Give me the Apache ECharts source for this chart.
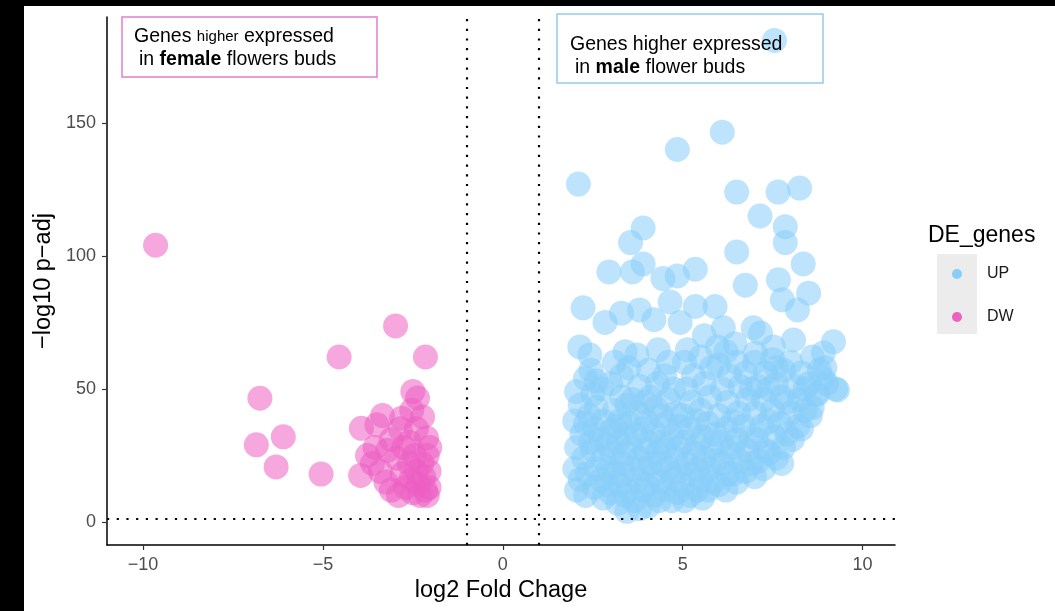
<!DOCTYPE html>
<html>
<head>
<meta charset="utf-8">
<script src="https://cdn.jsdelivr.net/npm/echarts@6/dist/echarts.min.js"></script>
<style>
  html, body { margin: 0; padding: 0; background: #fff; }
  #main { width: 1055px; height: 611px; }
</style>
</head>
<body>
<div id="main"></div>
<script>
var chartDom = document.getElementById("main");
var myChart = echarts.init(chartDom);
var option;

// log2 fold change, -log10 p-adj
const upGenes = [
  [7.55, 181], [6.1, 146.5], [4.85, 140], [2.1, 127], [6.5, 124], [7.65, 124],
  [8.25, 125.5], [7.15, 115], [3.9, 110.5], [7.85, 111], [3.55, 105], [7.85, 105],
  [6.5, 101.5], [3.9, 97], [8.35, 97], [2.95, 94], [4.45, 91.5], [4.85, 92.5],
  [5.35, 95], [3.6, 94], [7.66, 91], [6.74, 89], [8.5, 86],
  [2.23, 80.5], [2.84, 75], [3.3, 78.5], [3.8, 79.7], [4.2, 76], [4.65, 82.7],
  [4.93, 75], [5.35, 81], [5.9, 81], [6.13, 73], [6.96, 73], [7.16, 71],
  [7.77, 83.5], [8.19, 79.7], [2.14, 65.8], [2.42, 62.8], [3.4, 64], [3.73, 62.8],
  [4.32, 64.7], [5.13, 64.7], [5.96, 65.8], [9.19, 67.7], [8.91, 63.5], [8.08, 68.4],
  [7.52, 65.8], [7.02, 63.5], [6.45, 67], [5.6, 70], [8.9, 54], [9.3, 49.6], [8.7, 48],
  [2.05, 49], [2.3, 54], [2.15, 44], [2.0, 38], [2.2, 33], [2.05, 28], [2.25, 24],
  [2.0, 20], [2.15, 16], [2.05, 12], [2.3, 10],
  [2.5, 48], [2.75, 50], [2.6, 43], [2.8, 38], [2.55, 35], [2.7, 31], [2.5, 27],
  [2.8, 24], [2.6, 20], [2.75, 16], [2.55, 13], [2.8, 9],
  [3.0, 52], [3.3, 47], [3.1, 42], [3.25, 38], [3.0, 34], [3.2, 30], [3.05, 26],
  [3.3, 22], [3.1, 18], [3.25, 14], [3.0, 11], [3.2, 7],
  [3.5, 58], [3.8, 51], [3.6, 46], [3.75, 41], [3.5, 37], [3.7, 33], [3.55, 28],
  [3.8, 24], [3.6, 20], [3.75, 16], [3.5, 12], [3.65, 8], [3.45, 4], [3.8, 5],
  [4.05, 57], [4.3, 52], [4.1, 47], [4.25, 43], [4.0, 38], [4.2, 34], [4.05, 30],
  [4.3, 26], [4.1, 22], [4.25, 18], [4.0, 14], [4.2, 10], [4.05, 6],
  [4.5, 55], [4.75, 50], [4.6, 46], [4.8, 41], [4.55, 37], [4.7, 32], [4.5, 28],
  [4.8, 24], [4.6, 20], [4.75, 16], [4.5, 12], [4.7, 8],
  [5.05, 60], [5.3, 55], [5.1, 50], [5.25, 45], [5.0, 40], [5.2, 35], [5.05, 30],
  [5.3, 26], [5.1, 22], [5.25, 18], [5.0, 14], [5.2, 10], [5.05, 8],
  [5.5, 62], [5.8, 58], [5.6, 52], [5.75, 47], [5.5, 42], [5.7, 37], [5.55, 32],
  [5.8, 28], [5.6, 24], [5.75, 20], [5.5, 16], [5.7, 12], [5.55, 9],
  [6.0, 59], [6.3, 55], [6.1, 50], [6.25, 45], [6.0, 40], [6.2, 35], [6.05, 30],
  [6.3, 26], [6.1, 22], [6.25, 18], [6.0, 14], [6.2, 12],
  [6.5, 60], [6.75, 56], [6.6, 51], [6.8, 46], [6.55, 41], [6.7, 36], [6.5, 31],
  [6.8, 27], [6.6, 23], [6.75, 19], [6.5, 15],
  [7.0, 60], [7.3, 56], [7.1, 51], [7.25, 46], [7.0, 41], [7.2, 36], [7.05, 31],
  [7.3, 27], [7.1, 23], [7.25, 20], [7.0, 17],
  [7.5, 61], [7.8, 57], [7.6, 52], [7.75, 47], [7.5, 42], [7.7, 37], [7.55, 32],
  [7.8, 28], [7.6, 24], [7.75, 22],
  [8.0, 60], [8.3, 56], [8.1, 51], [8.25, 46], [8.0, 41], [8.2, 36], [8.05, 31], [8.3, 35],
  [8.5, 52], [8.75, 48], [8.6, 43], [8.8, 57], [8.55, 40],
  [9.0, 52], [9.25, 50], [8.95, 58],
  [2.35, 18], [2.45, 30], [2.4, 40], [2.9, 14], [2.95, 20], [2.9, 29], [3.15, 36],
  [3.4, 10], [3.35, 18], [3.4, 26], [3.4, 33], [3.45, 44], [3.9, 12], [3.9, 20],
  [3.95, 27], [3.9, 35], [3.95, 45], [4.35, 8], [4.4, 15], [4.4, 22], [4.4, 30],
  [4.4, 40], [4.85, 11], [4.9, 19], [4.9, 28], [4.9, 36], [5.4, 12], [5.4, 20],
  [5.4, 29], [5.4, 38], [5.85, 15], [5.9, 23], [5.9, 33], [6.4, 18], [6.4, 28],
  [6.4, 38], [6.9, 22], [6.9, 32], [6.9, 50], [7.4, 26], [7.4, 38], [7.4, 50],
  [7.9, 33], [7.9, 45], [8.4, 42], [8.4, 50], [3.1, 60], [3.3, 55], [2.45, 57],
  [4.6, 60], [6.2, 64], [7.6, 58], [8.6, 62], [2.3, 37], [2.6, 53]
];
const dwGenes = [
  [-9.65, 104], [-6.75, 46.5], [-6.85, 29], [-6.1, 32], [-6.3, 20.7], [-5.05, 18],
  [-4.55, 62], [-2.98, 73.7], [-2.15, 62],
  [-2.5, 49], [-2.37, 46.6], [-2.53, 42], [-2.23, 39.5], [-3.34, 40], [-3.5, 36.5],
  [-3.93, 35.2], [-2.81, 39], [-3.1, 31], [-2.12, 31.6], [-2.03, 28], [-3.76, 25],
  [-3.62, 22], [-3.95, 17.5], [-3.4, 19], [-3.25, 15], [-3.1, 12], [-2.95, 24],
  [-2.9, 10], [-2.8, 18], [-2.75, 28], [-2.7, 13], [-2.6, 22], [-2.55, 16],
  [-2.5, 11], [-2.45, 25], [-2.4, 19], [-2.35, 14], [-2.3, 10], [-2.25, 22],
  [-2.2, 17], [-2.15, 12], [-2.1, 25], [-2.05, 19], [-2.05, 13], [-2.1, 10],
  [-2.6, 30], [-3.2, 27], [-3.55, 28], [-2.85, 35], [-2.4, 35]
];
const xTicks = [-10, -5, 0, 5, 10];
const yTicks = [0, 50, 100, 150];
const fcCutoffs = [-1, 1];
const padjCutoff = 1.3;

const font = "'Liberation Sans', Arial, sans-serif";
const minus = (v) => (v < 0 ? "\u2212" + -v : String(v));

option = {
  backgroundColor: "#fff",
  animation: false,
  textStyle: { fontFamily: font },
  grid: { left: 107, right: 160, top: 17, bottom: 66 },
  xAxis: {
    type: "value",
    min: -11.0,
    max: 10.9,
    name: "log2 Fold Chage",
    nameLocation: "middle",
    nameGap: 24,
    nameTextStyle: { fontSize: 23.5, color: "#000", fontFamily: font },
    splitLine: { show: false },
    axisLine: { onZero: false, lineStyle: { color: "#000", width: 1.5 } },
    axisTick: { customValues: xTicks, length: 5, lineStyle: { color: "#333", width: 1.2 } },
    axisLabel: {
      customValues: xTicks,
      formatter: minus,
      margin: 11,
      fontSize: 18,
      color: "#4d4d4d",
      fontFamily: font
    }
  },
  yAxis: {
    type: "value",
    min: -8.65,
    max: 189.8,
    name: "\u2212log10 p\u2212adj",
    nameLocation: "middle",
    nameGap: 47,
    nameTextStyle: { fontSize: 23.5, color: "#000", fontFamily: font },
    splitLine: { show: false },
    axisLine: { onZero: false, lineStyle: { color: "#000", width: 1.5 } },
    axisTick: { customValues: yTicks, length: 5, lineStyle: { color: "#333", width: 1.2 } },
    axisLabel: {
      customValues: yTicks,
      margin: 11,
      fontSize: 18,
      color: "#4d4d4d",
      fontFamily: font
    }
  },
  legend: {
    data: ["UP", "DW"],
    orient: "vertical",
    left: 947,
    top: 261,
    icon: "circle",
    itemWidth: 10,
    itemHeight: 10,
    itemGap: 27,
    itemStyle: { opacity: 1 },
    selectedMode: false,
    textStyle: { fontSize: 16, color: "#1a1a1a", padding: [0, 0, 0, 20], fontFamily: font }
  },
  series: [
    {
      name: "UP",
      type: "scatter",
      symbolSize: 25,
      itemStyle: { color: "#87cefa", opacity: 0.55 },
      data: upGenes,
      markLine: {
        silent: true,
        symbol: ["none", "none"],
        label: { show: false },
        lineStyle: { color: "#000", width: 2.2, type: [2.2, 7.5] },
        data: [
          { xAxis: fcCutoffs[0] },
          { xAxis: fcCutoffs[1] },
          { yAxis: padjCutoff }
        ]
      }
    },
    {
      name: "DW",
      type: "scatter",
      symbolSize: 25,
      itemStyle: { color: "#ed5fc2", opacity: 0.55 },
      data: dwGenes
    }
  ],
  graphic: {
    elements: [
      { type: "rect", shape: { x: 0, y: 0, width: 1055, height: 6 }, style: { fill: "#000" }, z: 100 },
      { type: "rect", shape: { x: 0, y: 0, width: 24, height: 611 }, style: { fill: "#000" }, z: 100 },
      // legend key background
      { type: "rect", shape: { x: 937, y: 254, width: 40, height: 80 }, style: { fill: "#ececec" }, z: 0 },
      {
        type: "text", x: 928, y: 236, z: 50,
        style: { text: "DE_genes", font: "23px " + font, fill: "#000", verticalAlign: "middle" }
      },
      // annotation boxes
      {
        type: "rect", shape: { x: 122, y: 17, width: 255, height: 60 }, z: 50,
        style: { fill: "none", stroke: "#e37fcb", lineWidth: 1.5 }
      },
      {
        type: "text", x: 134, y: 37, z: 51,
        style: {
          text: "{a|Genes }{s|higher}{a| expressed}",
          verticalAlign: "middle",
          rich: {
            a: { fontSize: 19.5, fontFamily: font, fill: "#000", color: "#000" },
            s: { fontSize: 15, fontFamily: font, fill: "#000", color: "#000" }
          }
        }
      },
      {
        type: "text", x: 139, y: 60, z: 51,
        style: {
          text: "{a|in }{b|female}{a| flowers buds}",
          verticalAlign: "middle",
          rich: {
            a: { fontSize: 19.5, fontFamily: font, fill: "#000", color: "#000" },
            b: { fontSize: 19.5, fontWeight: "bold", fontFamily: font, fill: "#000", color: "#000" }
          }
        }
      },
      {
        type: "rect", shape: { x: 557, y: 14, width: 266, height: 69 }, z: 50,
        style: { fill: "none", stroke: "#93cbea", lineWidth: 1.5 }
      },
      {
        type: "text", x: 570, y: 45, z: 51,
        style: { text: "Genes higher expressed", font: "19.5px " + font, fill: "#000", verticalAlign: "middle" }
      },
      {
        type: "text", x: 575, y: 68, z: 51,
        style: {
          text: "{a|in }{b|male}{a| flower buds}",
          verticalAlign: "middle",
          rich: {
            a: { fontSize: 19.5, fontFamily: font, fill: "#000", color: "#000" },
            b: { fontSize: 19.5, fontWeight: "bold", fontFamily: font, fill: "#000", color: "#000" }
          }
        }
      }
    ]
  }
};

option && myChart.setOption(option);
</script>
</body>
</html>
